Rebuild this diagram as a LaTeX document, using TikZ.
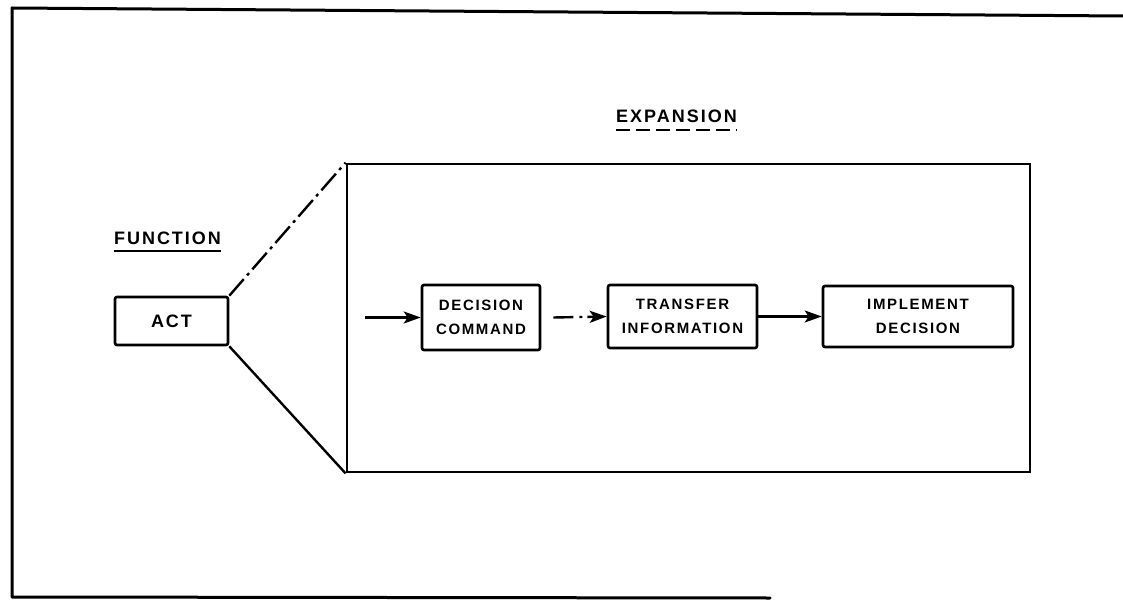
\documentclass[tikz,border=0pt]{standalone}
\usepackage{fontspec}
\usetikzlibrary{arrows.meta}
\newfontfamily\lab{Liberation Sans}[LetterSpace=11]
\tikzset{
  frameline/.style={line width=3pt, line cap=round, line join=round},
  boxline/.style={draw, line width=2.6pt, rounded corners=2pt},
  fbox/.style={boxline, inner sep=0pt, align=center, font=\lab\bfseries\fontsize{15}{24}\selectfont},
  title/.style={inner sep=0pt, font=\lab\bfseries\fontsize{18}{20}\selectfont},
  arr/.style={line width=2.4pt, -{Stealth[length=17pt,width=12pt,inset=4pt]}},
  dashdot/.style={dash pattern=on 20pt off 6pt on 3pt off 5pt},
}
\begin{document}
\begin{tikzpicture}[x=1pt,y=-1pt]
\useasboundingbox (0,0) rectangle (1123,601);
% outer frame (open at right)
\draw[frameline] (1123,16) -- (12,8) -- (12,597) -- (770,598);
% labels
\node[title] (fun) at (167.5,238.5) {FUNCTION};
\draw[line width=2pt] ([yshift=-6pt]fun.base west) -- ([yshift=-6pt]fun.base east);
\node[title] (expl) at (676.5,116.5) {EXPANSION};
\draw[line width=2pt, dash pattern=on 14pt off 6pt] ([yshift=-7pt]expl.base west) -- ([yshift=-7pt]expl.base east);
% function box
\node[fbox, font=\lab\bfseries\fontsize{18}{20}\selectfont, minimum width=113pt, minimum height=48pt] (act) at (171.5,321) {ACT};
% expansion box
\node[draw, line width=2.8pt, minimum width=683pt, minimum height=308pt, inner sep=0pt] (exp) at (688.5,318) {};
\draw[line width=2.4pt, dash pattern=on 22pt off 5pt on 3pt off 5pt] (act.north east) -- (exp.north west);
\draw[line width=2.4pt] (act.south east) -- (exp.south west);
% inner boxes
\node[fbox, minimum width=118pt, minimum height=65pt] (dc) at (481,317.5) {DECISION\\COMMAND};
\node[fbox, minimum width=149pt, minimum height=63pt] (ti) at (682.5,316.5) {TRANSFER\\INFORMATION};
\node[fbox, minimum width=190pt, minimum height=61pt] (id) at (918,316.5) {IMPLEMENT\\DECISION};
\coordinate (in) at (365,317.5);
\draw[arr] (in) -- (dc.west);
\draw[arr, dashdot] ([xshift=12pt]dc.east) -- (ti.west);
\draw[arr] (ti.east) -- (id.west);
\end{tikzpicture}
\end{document}
